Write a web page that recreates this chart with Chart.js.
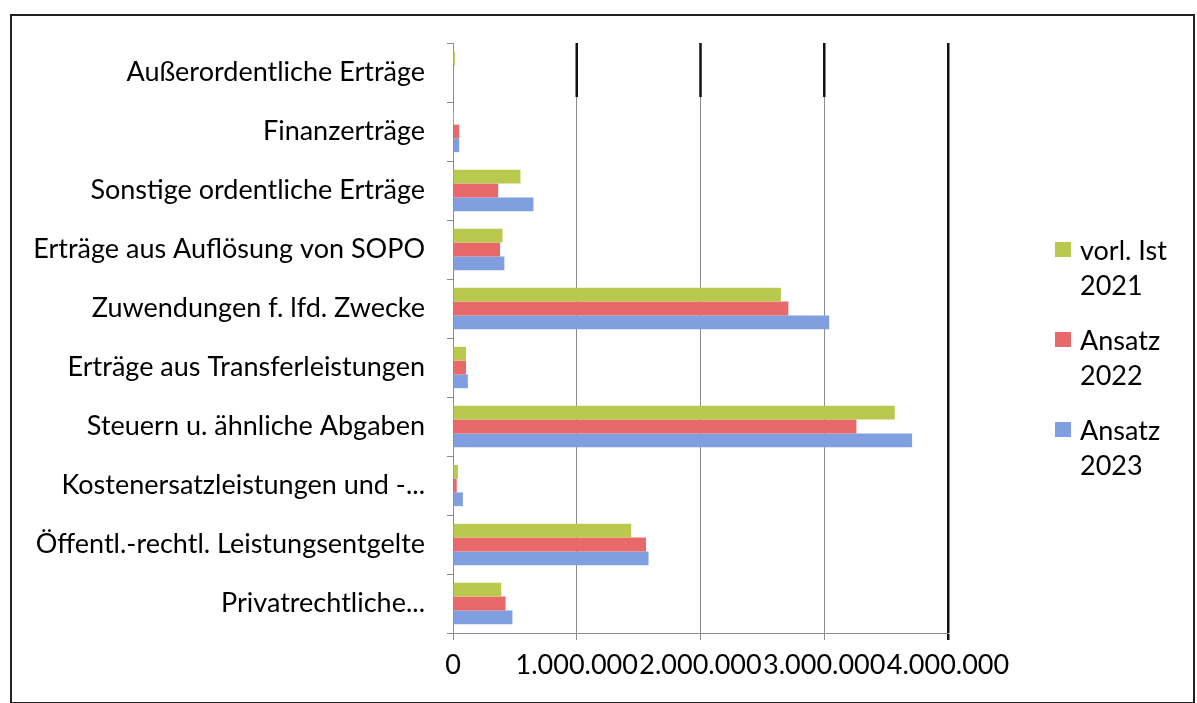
<!DOCTYPE html>
<html>
<head>
<meta charset="utf-8">
<script src="https://cdn.jsdelivr.net/npm/chart.js@4"></script>
<style>
    body { margin: 0; background: #fff; }
    #wrap { position: absolute; left: 0; top: 0; width: 1197px; height: 703px; }
    #frame { position: absolute; left: 10px; top: 14px; width: 1185px; height: 690px; border: 2px solid #222; box-sizing: border-box; }
    #legend { position: absolute; left: 1055px; top: 232px; font-family: Lato, sans-serif; font-size: 27px; color: #000; }
    #legend .item { position: relative; height: 70px; margin-bottom: 20px; }
    #legend .box { position: absolute; left: 0; top: 10px; width: 16px; height: 15px; }
    #legend .text { position: absolute; left: 25px; top: 0; line-height: 35px; white-space: nowrap; }
</style>
</head>
<body>
<div id="frame"></div>
<div id="wrap"><canvas id="chart" width="1197" height="703"></canvas></div>
<div id="legend"></div>
<script>
"use strict";

var categories = [
    "Außerordentliche Erträge",
    "Finanzerträge",
    "Sonstige ordentliche Erträge",
    "Erträge aus Auflösung von SOPO",
    "Zuwendungen f. lfd. Zwecke",
    "Erträge aus Transferleistungen",
    "Steuern u. ähnliche Abgaben",
    "Kostenersatzleistungen und -...",
    "Öffentl.-rechtl. Leistungsentgelte",
    "Privatrechtliche..."
];

var ist2021 =    [15000,  8000, 545000, 400000, 2650000, 105000, 3570000, 40000, 1440000, 390000];
var ansatz2022 = [ 3000, 50000, 365000, 380000, 2710000, 105000, 3260000, 30000, 1560000, 425000];
var ansatz2023 = [ 3000, 50000, 650000, 415000, 3040000, 120000, 3710000, 80000, 1580000, 480000];

var seriesNames = [["vorl. Ist", "2021"], ["Ansatz", "2022"], ["Ansatz", "2023"]];
var seriesColors = ["#b8c94e", "#e9686a", "#809fe0"];

var xTickValues = [0, 1000000, 2000000, 3000000, 4000000];
var xTickLabels = ["0", "1.000.000", "2.000.000", "3.000.000", "4.000.000"];

// Dark upper part of the inner grid lines, as on the scanned page
var darkTopLines = {
    id: "darkTopLines",
    afterDatasetsDraw: function(chart) {
        var ctx = chart.ctx;
        var x = chart.scales.x;
        var top = chart.chartArea.top;
        ctx.save();
        ctx.strokeStyle = "#111";
        ctx.lineWidth = 2.5;
        for (let i = 1; i < 4; i++) {
            var px = x.getPixelForValue(xTickValues[i]);
            ctx.beginPath();
            ctx.moveTo(px, top);
            ctx.lineTo(px, top + 54);
            ctx.stroke();
        }
        ctx.restore();
    }
};

window.onload = function() {

    Chart.defaults.font.family = "Lato, sans-serif";
    Chart.defaults.font.size = 27;
    Chart.defaults.color = "#000";

    var data = [ist2021, ansatz2022, ansatz2023];
    var datasets = [];

    for (let i = 0; i < data.length; i++) {
        datasets.push({
            label: seriesNames[i].join(" "),
            data: data[i],
            backgroundColor: seriesColors[i],
            borderWidth: 0,
            categoryPercentage: 0.7,
            barPercentage: 1.0
        });
    }

    var config = {
        type: "bar",
        data: {
            labels: categories,
            datasets: datasets
        },
        options: {
            indexAxis: "y",
            responsive: false,
            animation: false,
            devicePixelRatio: 1,
            layout: {
                padding: { left: 0, top: 43, right: 249, bottom: 0 }
            },
            plugins: {
                legend: { display: false },
                tooltip: { enabled: false }
            },
            scales: {
                x: {
                    min: 0,
                    max: 4000000,
                    afterBuildTicks: function(scale) {
                        scale.ticks = xTickValues.map(function(v) { return { value: v }; });
                    },
                    afterFit: function(scale) {
                        scale.height = 70;
                    },
                    ticks: {
                        padding: 9,
                        maxRotation: 0,
                        autoSkip: false,
                        callback: function(value, index) {
                            return xTickLabels[index];
                        }
                    },
                    grid: {
                        tickLength: 7,
                        color: function(ctx) {
                            return ctx.tick && ctx.tick.value === 4000000 ? "#111" : "#8c8c8c";
                        },
                        lineWidth: function(ctx) {
                            return ctx.tick && ctx.tick.value === 4000000 ? 2.5 : 1;
                        }
                    },
                    border: { color: "#8c8c8c", width: 1 }
                },
                y: {
                    afterFit: function(scale) {
                        scale.width = 453;
                    },
                    ticks: {
                        padding: 22,
                        autoSkip: false
                    },
                    grid: {
                        offset: true,
                        drawOnChartArea: false,
                        tickLength: 6,
                        color: "#8c8c8c"
                    },
                    border: { color: "#8c8c8c", width: 1 }
                }
            }
        },
        plugins: [darkTopLines]
    };

    var ctx = document.getElementById("chart").getContext("2d");
    var chart = new Chart(ctx, config);

    // Legend built from the datasets
    var legend = document.getElementById("legend");
    for (let i = 0; i < chart.data.datasets.length; i++) {
        var item = document.createElement("div");
        item.className = "item";

        var box = document.createElement("div");
        box.className = "box";
        box.style.background = chart.data.datasets[i].backgroundColor;

        var text = document.createElement("div");
        text.className = "text";
        text.appendChild(document.createTextNode(seriesNames[i][0]));
        text.appendChild(document.createElement("br"));
        text.appendChild(document.createTextNode(seriesNames[i][1]));

        item.appendChild(box);
        item.appendChild(text);
        legend.appendChild(item);
    }
};
</script>
</body>
</html>
